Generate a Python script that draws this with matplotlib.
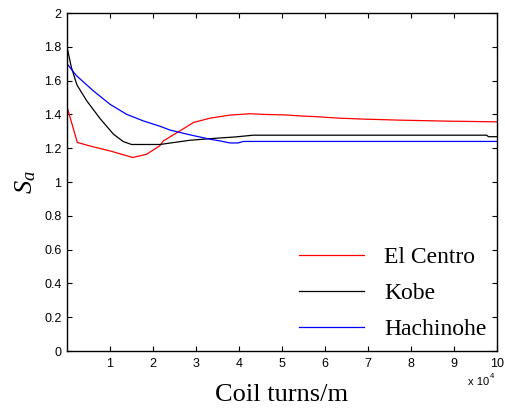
import matplotlib
matplotlib.use("Agg")
import matplotlib.pyplot as plt
from matplotlib.ticker import FuncFormatter

plt.rcParams["mathtext.fontset"] = "custom"
plt.rcParams["mathtext.it"] = "Liberation Serif:italic"
plt.rcParams["mathtext.rm"] = "Liberation Serif"

# x in units of 10^4 coil turns/m
el_centro_x = [0, 0.24, 0.61, 1.0, 1.53, 1.85, 2.16, 2.24, 2.63, 2.94, 3.33, 3.79, 4.26, 4.56, 5.07, 5.42, 5.84, 6.3, 6.93, 7.74, 8.86, 10]
el_centro_y = [1.446, 1.234, 1.208, 1.184, 1.145, 1.164, 1.215, 1.243, 1.303, 1.352, 1.378, 1.396, 1.404, 1.400, 1.397, 1.391, 1.386, 1.378, 1.372, 1.366, 1.36, 1.356]

kobe_x = [0, 0.1, 0.23, 0.46, 0.77, 1.08, 1.31, 1.5, 2.16, 2.86, 3.47, 3.93, 4.33, 9.76, 9.8, 10]
kobe_y = [1.80, 1.68, 1.575, 1.48, 1.375, 1.283, 1.239, 1.222, 1.222, 1.247, 1.259, 1.267, 1.277, 1.277, 1.268, 1.268]

hachinohe_x = [0, 0.22, 0.61, 1.0, 1.39, 1.77, 2.16, 2.4, 2.86, 3.33, 3.56, 3.79, 3.98, 4.1, 10]
hachinohe_y = [1.70, 1.629, 1.54, 1.46, 1.40, 1.362, 1.33, 1.307, 1.279, 1.253, 1.243, 1.231, 1.231, 1.24, 1.24]

series_names = ["El Centro", "Kobe", "Hachinohe"]
x_ticks = [1, 2, 3, 4, 5, 6, 7, 8, 9, 10]
y_ticks = [0, 0.2, 0.4, 0.6, 0.8, 1.0, 1.2, 1.4, 1.6, 1.8, 2.0]

fig = plt.figure(figsize=(5.06, 4.12), dpi=100)
ax = fig.add_axes([67/506, 61/412, 430/506, 338/412])

ax.plot(el_centro_x, el_centro_y, color="#ff0000", lw=0.9, label=series_names[0])
ax.plot(kobe_x, kobe_y, color="#000000", lw=0.9, label=series_names[1])
ax.plot(hachinohe_x, hachinohe_y, color="#0000ff", lw=0.9, label=series_names[2])

ax.set_xlim(0, 10)
ax.set_ylim(0, 2)
ax.set_xticks(x_ticks)
ax.set_yticks(y_ticks)
ax.yaxis.set_major_formatter(FuncFormatter(lambda v, p: ("%g" % round(v, 1))))
ax.tick_params(direction="in", top=True, right=True, length=3.5, width=0.8,
               labelsize=9)
ax.tick_params(axis="x", pad=5)
ax.tick_params(axis="y", pad=4)
for lab in ax.get_xticklabels() + ax.get_yticklabels():
    lab.set_family("Liberation Sans")
for s in ax.spines.values():
    s.set_linewidth(1.0)

ax.set_xlabel("Coil turns/m", family="Liberation Serif", fontsize=19, labelpad=10)
ax.set_ylabel("$S_a$", fontsize=19, labelpad=4)

fig.text(468/506, 1 - 382/412, "x 10", family="Liberation Sans", fontsize=8,
         va="center", ha="left")
fig.text(490/506, 1 - 376/412, "4", family="Liberation Sans", fontsize=5.5,
         va="center", ha="left")

leg = ax.legend(loc="lower right", frameon=False, prop={"family": "Liberation Serif", "size": 17},
                handlelength=2.75, handletextpad=0.85, labelspacing=0.62,
                bbox_to_anchor=(1.0, 0.0), borderaxespad=0.05)

fig.savefig("out.png", dpi=100)
